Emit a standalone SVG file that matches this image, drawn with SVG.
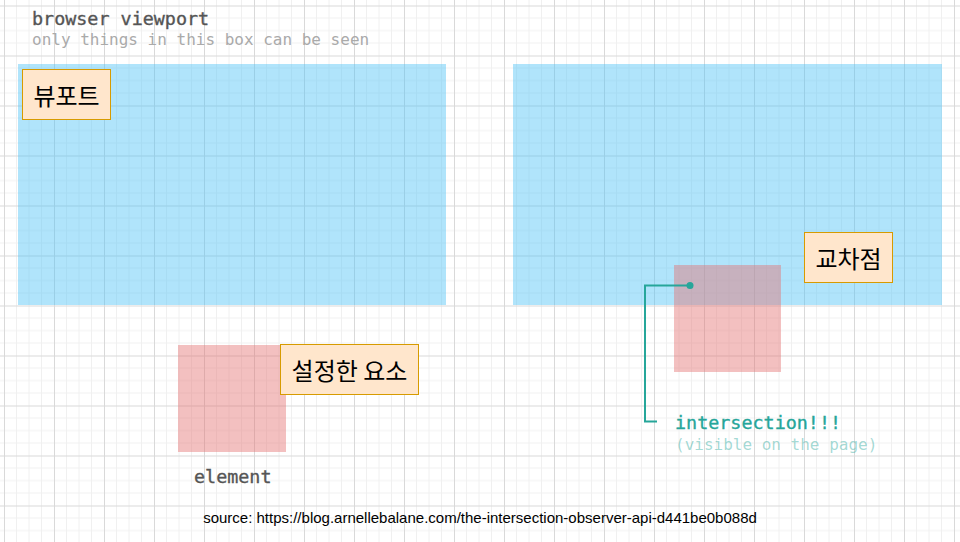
<svg xmlns="http://www.w3.org/2000/svg" width="960" height="542" viewBox="0 0 960 542">
  <style>
    .mono { font-family: "DejaVu Sans Mono", "Liberation Mono", monospace; }
    .title { font-size: 18.4px; fill: #555555; stroke: #555555; stroke-width: 0.35px; }
    .sub { font-size: 16px; fill: #aaaaaa; }
    .viewport { fill: #4fc3f7; fill-opacity: 0.45; }
    .element { fill: #e57373; fill-opacity: 0.45; }
    .label rect { fill: #ffe6cc; stroke: #d79b00; stroke-width: 1; }
    .label text { font-family: "Noto Sans CJK KR", "Noto Sans", sans-serif; font-size: 24px; fill: #000000; text-anchor: middle; dominant-baseline: central; }
    .teal { fill: #26a69a; stroke: #26a69a; }
    .teal-light { fill: #26a69a; fill-opacity: 0.42; }
    .conn { fill: none; stroke: #26a69a; stroke-width: 2; }
  </style>
  <defs>
    <pattern id="grid" width="50" height="50" patternUnits="userSpaceOnUse" x="4" y="5.5">
      <path d="M12.5 0V50M25 0V50M37.5 0V50M0 12.5H50M0 25H50M0 37.5H50" stroke="#f0f0f0" stroke-width="1" fill="none"/>
      <path d="M0.5 0V50M0 0.5H50" stroke="#d9d9d9" stroke-width="1" fill="none"/>
    </pattern>
  </defs>
  <rect width="960" height="542" fill="#ffffff"/>
  <rect width="960" height="542" fill="url(#grid)"/>

  <g id="header">
    <text class="mono title" x="32" y="25">browser viewport</text>
    <text class="mono sub" x="32" y="45">only things in this box can be seen</text>
  </g>

  <g id="viewport-left">
    <rect class="viewport" x="18" y="64" width="428" height="241"/>
  </g>
  <g id="viewport-right">
    <rect class="viewport" x="513" y="64" width="429" height="241"/>
  </g>

  <g id="element-left">
    <rect class="element" x="178" y="345" width="108" height="107"/>
    <text class="mono title" x="194" y="483">element</text>
  </g>
  <g id="element-right">
    <rect class="element" x="674" y="265" width="107" height="107"/>
  </g>

  <g id="label-viewport" class="label">
    <rect x="22.5" y="69.5" width="88" height="50"/>
    <text x="66.5" y="94.5">뷰포트</text>
  </g>
  <g id="label-intersection" class="label">
    <rect x="804.5" y="232.5" width="88" height="50"/>
    <text x="848.5" y="257.5">교차점</text>
  </g>
  <g id="label-element" class="label">
    <rect x="280.5" y="344.5" width="138" height="50"/>
    <text x="349.5" y="369.5">설정한 요소</text>
  </g>

  <g id="connectors">
    <path class="conn" d="M690 285.5H645V421.5H657"/>
    <circle cx="690" cy="285.5" r="3.5" fill="#26a69a"/>
  </g>

  <g id="intersection-note">
    <text class="mono title teal" x="675" y="429">intersection!!!</text>
    <text class="mono sub teal-light" x="675" y="450">(visible on the page)</text>
  </g>

  <g id="source">
    <text x="480" y="523" font-family="Liberation Sans, Arial, sans-serif" font-size="15" fill="#000000" text-anchor="middle">source: https://blog.arnellebalane.com/the-intersection-observer-api-d441be0b088d</text>
  </g>
</svg>
